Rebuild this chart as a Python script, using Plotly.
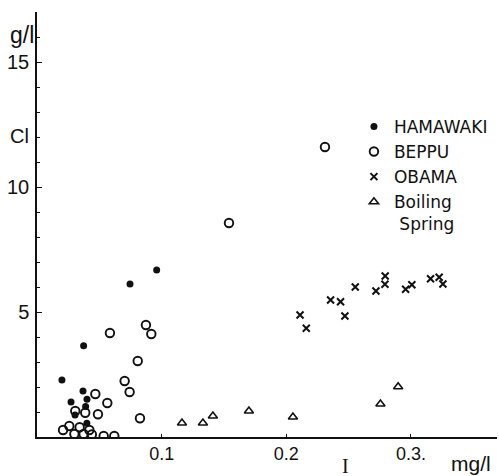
import plotly.graph_objects as go

# ---- data (I in mg/l, Cl in g/l) ----
hamawaki_x = [0.096, 0.0746, 0.0374, 0.020, 0.0369, 0.0401, 0.0273, 0.039, 0.0305, 0.040]
hamawaki_y = [6.68, 6.12, 3.65, 2.28, 1.84, 1.51, 1.40, 1.22, 0.88, 0.55]

beppu_x = [0.231, 0.154, 0.0585, 0.0874, 0.0917, 0.0808, 0.0703, 0.0743, 0.0468, 0.0564,
           0.0826, 0.0307, 0.0387, 0.0489, 0.0209, 0.0259, 0.0342, 0.042, 0.030, 0.0374,
           0.0440, 0.0535, 0.062]
beppu_y = [11.6, 8.56, 4.16, 4.48, 4.12, 3.04, 2.24, 1.80, 1.72, 1.36,
           0.75, 1.04, 0.97, 0.91, 0.28, 0.44, 0.39, 0.28, 0.12, 0.12,
           0.10, 0.04, 0.04]

obama_x = [0.211, 0.216, 0.2355, 0.2435, 0.247, 0.2553, 0.2719, 0.2793, 0.2791, 0.2957,
           0.3007, 0.3157, 0.3226, 0.3256]
obama_y = [4.88, 4.35, 5.48, 5.41, 4.84, 6.00, 5.84, 6.44, 6.11, 5.91,
           6.09, 6.33, 6.39, 6.12]

boil_x = [0.1163, 0.1331, 0.1411, 0.170, 0.2053, 0.2755, 0.2897]
boil_y = [0.56, 0.56, 0.84, 1.04, 0.80, 1.32, 2.01]

x_tickvals = [0.1, 0.2, 0.3]
x_ticktext = ["0.1", "0.2", "0.3."]
y_tickvals = [5, 10, 15]
y_ticktext = ["5", "10", "15"]

FONT = "Liberation Sans"
LEGFONT = "DejaVu Sans"
BLACK = "#111111"

fig = go.Figure()
fig.add_trace(go.Scatter(x=hamawaki_x, y=hamawaki_y, mode="markers", name="HAMAWAKI",
                         marker=dict(symbol="circle", size=7, color=BLACK)))
fig.add_trace(go.Scatter(x=beppu_x, y=beppu_y, mode="markers", name="BEPPU",
                         marker=dict(symbol="circle-open", size=8.5, color=BLACK,
                                     line=dict(width=1.9, color=BLACK))))
fig.add_trace(go.Scatter(x=obama_x, y=obama_y, mode="markers", name="OBAMA",
                         marker=dict(symbol="x-thin-open", size=7, color=BLACK,
                                     line=dict(width=2, color=BLACK))))
fig.add_trace(go.Scatter(x=boil_x, y=boil_y, mode="markers", name="Boiling<br> Spring",
                         marker=dict(symbol="triangle-up-open", size=8, color=BLACK,
                                     line=dict(width=1.6, color=BLACK))))

fig.update_layout(
    width=499, height=476,
    margin=dict(l=37, r=2, t=12, b=39),
    paper_bgcolor="white", plot_bgcolor="white",
    font=dict(family=FONT, color=BLACK, size=18),
    showlegend=True,
    legend=dict(x=0.689, y=0.772, xanchor="left", yanchor="top",
                bgcolor="rgba(0,0,0,0)", borderwidth=0,
                font=dict(family=LEGFONT, size=17, color=BLACK),
                valign="top", tracegroupgap=0, itemwidth=30),
    xaxis=dict(range=[0, 0.369], showgrid=False, zeroline=False,
               showline=True, linecolor=BLACK, linewidth=1.5,
               tickvals=x_tickvals, ticktext=x_ticktext,
               ticks="inside", ticklen=3, tickcolor=BLACK,
               tickfont=dict(family=FONT, size=18, color=BLACK)),
    yaxis=dict(range=[0, 17], showgrid=False, zeroline=False,
               showline=True, linecolor=BLACK, linewidth=1.5,
               tickvals=y_tickvals, ticktext=y_ticktext,
               ticks="inside", ticklen=5, tickcolor=BLACK,
               ticklabelstandoff=2,
               minor=dict(dtick=1, ticks="inside", ticklen=3, tickcolor=BLACK),
               tickfont=dict(family=FONT, size=20, color=BLACK)),
)

annots = [
    dict(text="g/l", x=8, y=35, size=23, family=FONT, anchor="left"),
    dict(text="Cl", x=8, y=136, size=20, family=FONT, anchor="left"),
    dict(text="I", x=345, y=466, size=20, family="Liberation Serif", anchor="center"),
    dict(text="mg/l", x=471, y=463, size=21, family=FONT, anchor="center"),
]
for a in annots:
    fig.add_annotation(text=a["text"], xref="paper", yref="paper",
                       x=(a["x"] - 37) / 460, y=1 - (a["y"] - 12) / 425,
                       xanchor=a["anchor"], yanchor="middle", showarrow=False,
                       font=dict(family=a["family"], size=a["size"], color=BLACK))

fig.write_html("out.html")
